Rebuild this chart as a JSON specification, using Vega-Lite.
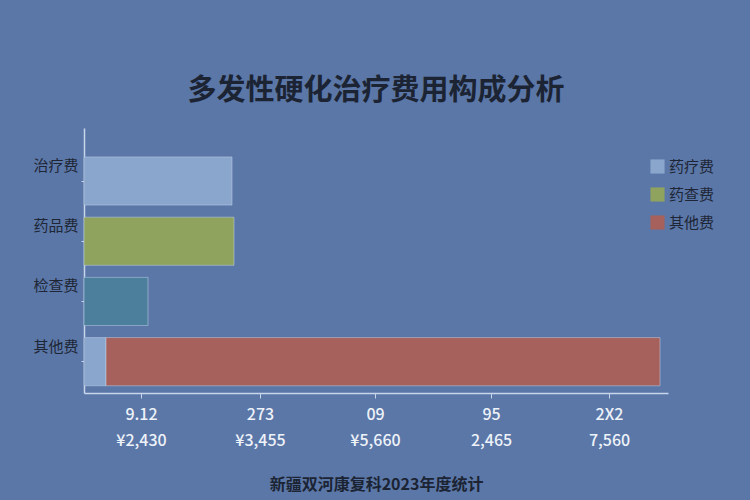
{
  "$schema": "https://vega.github.io/schema/vega-lite/v6.json",
  "width": 584,
  "height": 265,
  "autosize": {"type": "none"},
  "padding": {"left": 84, "top": 128, "right": 82, "bottom": 107},
  "background": "#5a77a7",
  "title": {
    "text": "多发性硬化治疗费用构成分析",
    "font": "Noto Sans CJK SC",
    "fontSize": 29,
    "fontWeight": "bold",
    "color": "#1c2434",
    "anchor": "middle",
    "offset": 22
  },
  "config": {
    "view": {"stroke": null},
    "font": "Noto Sans CJK SC"
  },
  "data": {
    "values": [
      {"项目": "治疗费", "类别": "药疗费", "金额": 1480, "序": 1},
      {"项目": "药品费", "类别": "药查费", "金额": 1500, "序": 1},
      {"项目": "检查费", "类别": "检查费", "金额": 640, "序": 1},
      {"项目": "其他费", "类别": "药疗费", "金额": 220, "序": 1},
      {"项目": "其他费", "类别": "其他费", "金额": 5540, "序": 2}
    ]
  },
  "mark": {"type": "bar", "stroke": "#c4d3ea", "strokeWidth": 1, "strokeOpacity": 0.5},
  "encoding": {
    "y": {
      "field": "项目",
      "type": "nominal",
      "sort": ["治疗费", "药品费", "检查费", "其他费"],
      "scale": {"paddingInner": 0.2, "paddingOuter": 0.3, "align": 0.8},
      "axis": {
        "title": null,
        "labelFontSize": 15,
        "labelColor": "#1e2636",
        "labelPadding": 3,
        "labelOffset": -15,
        "tickSize": 3,
        "tickColor": "#c8d5ea",
        "domainColor": "#c8d5ea",
        "domainWidth": 1.5
      }
    },
    "x": {
      "field": "金额",
      "type": "quantitative",
      "stack": "zero",
      "scale": {"domain": [0, 5840], "nice": false},
      "axis": {
        "title": "新疆双河康复科2023年度统计",
        "titleFontSize": 16,
        "titleFontWeight": "bold",
        "titleColor": "#1c2434",
        "titlePadding": 28,
        "values": [570, 1760, 2910, 4070, 5250],
        "labelExpr": "datum.value == 570 ? ['9.12', '¥2,430'] : datum.value == 1760 ? ['273', '¥3,455'] : datum.value == 2910 ? ['09', '¥5,660'] : datum.value == 4070 ? ['95', '2,465'] : ['2X2', '7,560']",
        "labelFontSize": 16,
        "labelFontWeight": 500,
        "labelLineHeight": 26,
        "labelColor": "#eef2f9",
        "labelPadding": 8,
        "grid": false,
        "tickSize": 5,
        "tickColor": "#c8d5ea",
        "domainColor": "#c8d5ea",
        "domainWidth": 1.5
      }
    },
    "color": {
      "field": "类别",
      "type": "nominal",
      "scale": {
        "domain": ["药疗费", "药查费", "其他费", "检查费"],
        "range": ["#8aa6cd", "#8fa35f", "#a6615c", "#4c7f9c"]
      },
      "legend": {
        "title": null,
        "values": ["药疗费", "药查费", "其他费"],
        "orient": "none",
        "legendX": 566,
        "legendY": 31,
        "symbolType": "square",
        "symbolSize": 200,
        "symbolStrokeWidth": 0,
        "labelFontSize": 15,
        "labelColor": "#1e2636",
        "rowPadding": 12
      }
    },
    "order": {"field": "序", "type": "quantitative"}
  }
}
